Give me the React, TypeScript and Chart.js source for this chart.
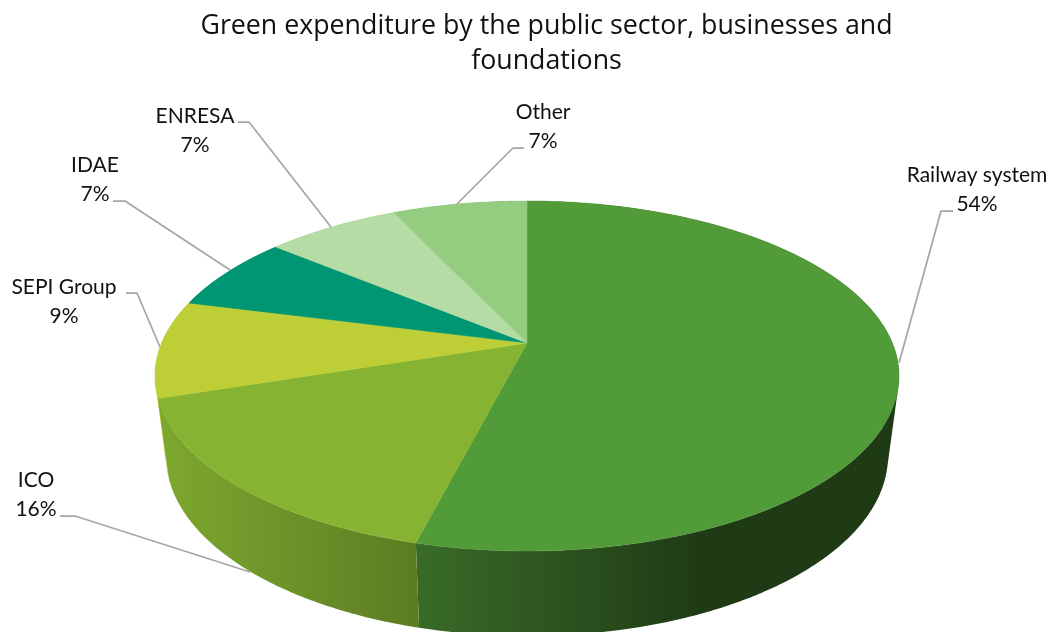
import React, { useEffect, useRef } from "react";
import { Chart, registerables } from "chart.js";

Chart.register(...registerables);

const categories = ["Railway system", "ICO", "SEPI Group", "IDAE", "ENRESA", "Other"];
const shares = [54, 16, 9, 7, 7, 7];
const sliceColors = ["#529b39", "#86b432", "#bdce37", "#009673", "#b6dca6", "#95cd80"];
const titleLines = ["Green expenditure by the public sector, businesses and", "foundations"];

// Callout placement per category: text centre, first line baseline-middle, leader polyline.
const callouts = [
  { cx: 977, y: 175, leader: [[953, 211], [941, 211], [899, 363]] },
  { cx: 36, y: 480, leader: [[60, 516], [75, 516], [250, 572]] },
  { cx: 64, y: 287, leader: [[126, 293], [137, 293], [160, 347]] },
  { cx: 95, y: 165, leader: [[113, 201], [125, 201], [230, 270]] },
  { cx: 195, y: 116, leader: [[238, 122], [249, 122], [331, 227]] },
  { cx: 543, y: 112, leader: [[524, 148], [513, 148], [457, 204]] },
];

// Lighting of the pie wall as a function of screen x.
const wallShade = [
  [155, 0.94],
  [428, 0.68],
  [700, 0.38],
  [900, 0.38],
];

type Disk = { cx: number; cy: number; rx: number; ry: number };
const PERSPECTIVE = -0.1886;
const topDisk: Disk = { cx: 527, cy: 376, rx: 372, ry: 175 };
const bottomDisk: Disk = { cx: 527, cy: 456, rx: 361, ry: 180 };

// Projects a pie angle (measured as Chart.js does) onto a tilted disk in perspective.
function project(d: Disk, angle: number, radius = 1): [number, number] {
  const c = PERSPECTIVE;
  const a = d.ry * (1 - c * c);
  const aTop = a / (1 - c);
  const apexY = d.cy - d.ry + aTop;
  const dx = d.rx * Math.sqrt(1 - c * c);
  const ux = radius * Math.cos(angle);
  const uy = radius * Math.sin(angle);
  const w = c * uy + 1;
  return [d.cx + (dx * ux) / w, apexY + (a * uy) / w];
}

function shadeHex(hex: string, k: number) {
  const n = parseInt(hex.slice(1), 16);
  const r = Math.round(((n >> 16) & 255) * k);
  const g = Math.round(((n >> 8) & 255) * k);
  const b = Math.round((n & 255) * k);
  return `rgb(${r},${g},${b})`;
}

function traceRim(ctx: CanvasRenderingContext2D, d: Disk, from: number, to: number, move: boolean) {
  const steps = Math.max(2, Math.ceil(Math.abs(to - from) * 60));
  for (let i = 0; i <= steps; i++) {
    const [x, y] = project(d, from + ((to - from) * i) / steps);
    if (i === 0 && move) ctx.moveTo(x, y);
    else ctx.lineTo(x, y);
  }
}

const pie3d = {
  id: "pie3d",
  beforeDatasetDraw(chart: any) {
    const { ctx } = chart;
    const arcs = chart.getDatasetMeta(0).data as any[];
    const xMin = wallShade[0][0];
    const xMax = wallShade[wallShade.length - 1][0];

    // Leader lines sit underneath the pie body.
    ctx.save();
    ctx.strokeStyle = "#a6a6a6";
    ctx.lineWidth = 1.75;
    ctx.lineJoin = "round";
    callouts.forEach((c) => {
      ctx.beginPath();
      c.leader.forEach(([x, y], i) => (i ? ctx.lineTo(x, y) : ctx.moveTo(x, y)));
      ctx.stroke();
    });

    // Walls, rear slices first so the front ones overlap them. Each wall is built
    // from narrow quads so its outline follows the silhouette between the two rims.
    const order = arcs
      .map((arc, i) => ({ arc, i, depth: Math.sin((arc.startAngle + arc.endAngle) / 2) }))
      .sort((p, q) => p.depth - q.depth);
    order.forEach(({ arc }) => {
      const grad = ctx.createLinearGradient(xMin, 0, xMax, 0);
      wallShade.forEach(([x, k]) => grad.addColorStop((x - xMin) / (xMax - xMin), shadeHex(arc.options.backgroundColor, k)));
      ctx.fillStyle = grad;
      const steps = Math.max(2, Math.ceil((arc.endAngle - arc.startAngle) * 60));
      const span = (arc.endAngle - arc.startAngle) / steps;
      ctx.beginPath();
      for (let i = 0; i < steps; i++) {
        const a0 = arc.startAngle + span * i;
        const a1 = a0 + span * 1.2;
        const end = Math.min(a1, arc.endAngle);
        const p = [project(topDisk, a0), project(topDisk, end), project(bottomDisk, end), project(bottomDisk, a0)];
        // Keep every quad wound the same way so overlaps stay filled.
        const area = p.reduce((s, q, j) => {
          const r = p[(j + 1) % 4];
          return s + q[0] * r[1] - r[0] * q[1];
        }, 0);
        const pts = area < 0 ? [...p].reverse() : p;
        ctx.moveTo(pts[0][0], pts[0][1]);
        ctx.lineTo(pts[1][0], pts[1][1]);
        ctx.lineTo(pts[2][0], pts[2][1]);
        ctx.lineTo(pts[3][0], pts[3][1]);
        ctx.closePath();
      }
      ctx.fill();
    });

    // Top face.
    arcs.forEach((arc) => {
      const apex = project(topDisk, 0, 0);
      ctx.beginPath();
      ctx.moveTo(apex[0], apex[1]);
      traceRim(ctx, topDisk, arc.startAngle, arc.endAngle, false);
      ctx.closePath();
      ctx.fillStyle = arc.options.backgroundColor;
      ctx.strokeStyle = arc.options.backgroundColor;
      ctx.lineWidth = 0.5;
      ctx.fill();
      ctx.stroke();
    });
    ctx.restore();
    return false;
  },
  afterDraw(chart: any) {
    const { ctx } = chart;
    const values = chart.data.datasets[0].data as number[];
    ctx.save();
    ctx.fillStyle = "#111111";
    ctx.font = "21px Lato";
    ctx.textAlign = "center";
    ctx.textBaseline = "middle";
    (chart.data.labels as string[]).forEach((label, i) => {
      const c = callouts[i];
      ctx.fillText(label, c.cx, c.y);
      ctx.fillText(`${values[i]}%`, c.cx, c.y + 29);
    });
    ctx.restore();
  },
};

export default function App() {
  const ref = useRef<HTMLCanvasElement>(null);
  useEffect(() => {
    const chart = new Chart(ref.current!, {
      type: "pie",
      data: {
        labels: categories,
        datasets: [{ data: shares, backgroundColor: sliceColors, borderWidth: 0 }],
      },
      options: {
        responsive: false,
        animation: false,
        layout: { padding: { left: 40, top: 3, right: 0, bottom: 0 } },
        plugins: {
          legend: { display: false },
          tooltip: { enabled: false },
          title: {
            display: true,
            text: titleLines,
            color: "#111111",
            font: { family: "'Open Sans'", size: 26.75, weight: "normal", lineHeight: 1.31 },
            padding: { top: 6, bottom: 10 },
          },
        },
      },
      plugins: [pie3d],
    });
    return () => chart.destroy();
  }, []);
  return (
    <div style={{ position: "fixed", left: 0, top: 0, width: 1053, height: 632, background: "#fff" }}>
      <canvas ref={ref} width={1053} height={632} style={{ display: "block" }} />
    </div>
  );
}
